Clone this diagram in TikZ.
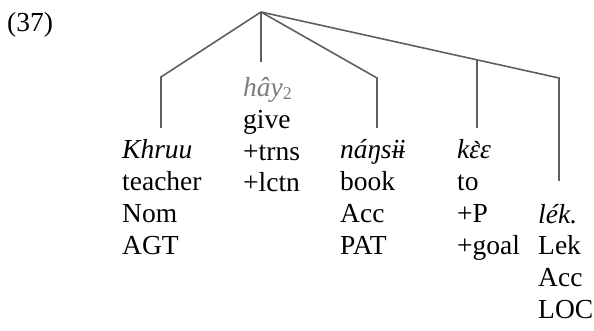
\documentclass[tikz,border=0pt]{standalone}
\usepackage{fontspec}
\setmainfont{Liberation Serif}
\newfontfamily\plainserif{Liberation Serif}
\definecolor{branchgray}{RGB}{95,95,95}
\definecolor{fadedgray}{RGB}{125,125,125}
\newcommand{\gravetop}[1]{\makebox[0pt][l]{\kern3.5pt\raisebox{-1.5pt}{\plainserif\upshape\char"0060}}#1}
\tikzset{
  word/.style={anchor=base west, inner sep=0pt, font=\fontsize{27.5}{31.8}\selectfont},
  branch/.style={draw=branchgray, line width=1.6pt}
}
\begin{document}
\begin{tikzpicture}[x=1pt, y=-1pt]
\useasboundingbox (0,0) rectangle (594,331);
\node[word] (P_ex) at (7,32) {(37)};
% branch points
\coordinate (P_root) at (261,12);
\coordinate (P_1_top) at (161,77);
\coordinate (P_1_bot) at (161,128);
\coordinate (P_2_bot) at (261,62);
\coordinate (P_3_top) at (377,78);
\coordinate (P_3_bot) at (377,128);
\coordinate (P_4_top) at (477,59.8);
\coordinate (P_4_bot) at (477,128);
\coordinate (P_5_top) at (559,78);
\coordinate (P_5_bot) at (559,181);
\draw[branch] (P_root) -- (P_1_top) -- (P_1_bot);
\draw[branch] (P_root) -- (P_2_bot);
\draw[branch] (P_root) -- (P_3_top) -- (P_3_bot);
\draw[branch] (P_root) -- (P_5_top) -- (P_5_bot);
\draw[branch] (P_4_top) -- (P_4_bot);
% word columns
\node[word] (W_1) at (122,159) {\begin{tabular}[t]{@{}l@{}}\textit{Khruu}\\teacher\\Nom\\AGT\end{tabular}};
\node[word] (W_2) at (243,96.5) {\begin{tabular}[t]{@{}l@{}}\textcolor{fadedgray}{\textit{hây}\raisebox{-3pt}{\fontsize{18}{18}\selectfont 2}}\\give\\+trns\\+lctn\end{tabular}};
\node[word] (W_3) at (340,159) {\begin{tabular}[t]{@{}l@{}}\textit{náŋsɨ\kern-1.5ptɨ}\\book\\Acc\\PAT\end{tabular}};
\node[word] (W_4) at (457,159) {\begin{tabular}[t]{@{}l@{}}\textit{k\gravetop{ɛ}ɛ}\\to\\+P\\+goal\end{tabular}};
\node[word] (W_5) at (538,223) {\begin{tabular}[t]{@{}l@{}}\textit{lék.}\\Lek\\Acc\\LOC\end{tabular}};
\end{tikzpicture}
\end{document}
